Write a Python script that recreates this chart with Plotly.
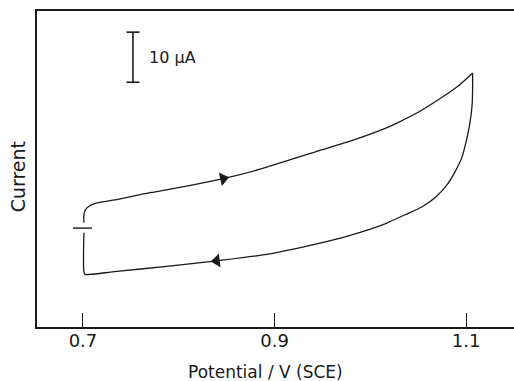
import plotly.graph_objects as go

# Cyclic voltammogram: potential (V vs SCE) and current (uA, zero at the marker)
fwd_potential = [0.7010, 0.7010, 0.7026, 0.7063, 0.7136, 0.7313, 0.7700, 0.8083,
                 0.8465, 0.8849, 0.9441, 0.9789, 1.0136, 1.0311, 1.0485, 1.0729,
                 1.0917, 1.1068]
fwd_current = [1.06, 2.66, 3.66, 4.36, 4.96, 5.56, 7.06, 8.36,
               9.86, 11.76, 15.32, 17.36, 19.76, 21.26, 22.96, 25.86,
               28.36, 30.96]

rev_potential = [1.1068, 1.1068, 1.1063, 1.1042, 1.1005, 1.0955, 1.0885, 1.0802,
                 1.0687, 1.0541, 1.0363, 1.0154, 0.9789, 0.9441, 0.8919, 0.8396,
                 0.7874, 0.7352, 0.7073, 0.7021, 0.7010, 0.7010]
rev_current = [30.96, 28.06, 24.66, 21.26, 17.66, 14.06, 11.26, 8.66,
               6.26, 4.26, 2.66, 0.86, -1.44, -3.14, -5.24, -6.54,
               -7.64, -8.64, -9.24, -9.24, -8.74, -0.94]

# sweep-direction arrows (position on the curve, heading in degrees)
arrow_potential = [0.8465, 0.8396]
arrow_current = [9.86, -6.54]
arrow_symbol = ["triangle-right", "triangle-left"]
arrow_angle = [-13, -7]

tick_values = [0.7, 0.9, 1.1]
tick_labels = ["0.7", "0.9", "1.1"]

scale_bar_ua = 10          # length of the current scale bar
scale_bar_x = 0.7522
scale_bar_top = 39.1
start_potential = 0.7

x_range = [0.652, 1.150]
y_range = [-19.74, 43.32]

ink = "#1a1a1a"
font_family = "DejaVu Sans"

fig = go.Figure()

# anodic sweep and cathodic return drawn as two smooth branches
fig.add_trace(go.Scatter(
    x=fwd_potential, y=fwd_current, mode="lines",
    line=dict(color=ink, width=1.3, shape="spline", smoothing=0.8), hoverinfo="skip",
))
fig.add_trace(go.Scatter(
    x=rev_potential, y=rev_current, mode="lines",
    line=dict(color=ink, width=1.3, shape="spline", smoothing=0.8), hoverinfo="skip",
))

fig.add_trace(go.Scatter(
    x=arrow_potential, y=arrow_current, mode="markers",
    marker=dict(symbol=arrow_symbol, angle=arrow_angle, size=12, color=ink),
    hoverinfo="skip",
))

# current scale bar with end caps
cap = 0.0068
bar_bottom = scale_bar_top - scale_bar_ua
fig.add_trace(go.Scatter(
    x=[scale_bar_x, scale_bar_x, None,
       scale_bar_x - cap, scale_bar_x + cap, None,
       scale_bar_x - cap, scale_bar_x + cap],
    y=[scale_bar_top, bar_bottom, None,
       scale_bar_top, scale_bar_top, None,
       bar_bottom, bar_bottom],
    mode="lines", line=dict(color=ink, width=1.6), hoverinfo="skip",
))

# zero-current marker at the start potential
fig.add_shape(type="line", x0=start_potential - 0.0104, x1=start_potential + 0.0094,
              y0=0, y1=0, line=dict(color=ink, width=1.4))

fig.add_annotation(x=scale_bar_x + 0.0145, y=scale_bar_top - scale_bar_ua / 2,
                   text=f"{scale_bar_ua} μA", showarrow=False, xanchor="left",
                   yanchor="middle", font=dict(family=font_family, size=16, color=ink))

# axis titles
fig.add_annotation(xref="paper", yref="paper", x=0.478, y=-0.142,
                   text="Potential / V (SCE)", showarrow=False,
                   xanchor="center", yanchor="middle",
                   font=dict(family=font_family, size=17, color=ink))
fig.add_annotation(xref="paper", yref="paper", x=-0.041, y=0.475,
                   text="Current", showarrow=False, textangle=-90,
                   xanchor="center", yanchor="middle",
                   font=dict(family=font_family, size=19, color=ink))

fig.update_layout(
    width=514, height=381,
    margin=dict(l=37, r=0, t=11, b=54),
    paper_bgcolor="white", plot_bgcolor="white",
    showlegend=False,
    xaxis=dict(
        range=x_range, showgrid=False, zeroline=False,
        showline=True, linecolor=ink, linewidth=1.6, mirror=True,
        ticks="inside", ticklen=14, tickwidth=1, tickcolor=ink,
        tickvals=tick_values, ticktext=tick_labels, ticklabelstandoff=-3,
        tickfont=dict(family=font_family, size=18, color=ink),
    ),
    yaxis=dict(
        range=y_range, showgrid=False, zeroline=False,
        showline=True, linecolor=ink, linewidth=1.8, mirror=False,
        showticklabels=False, ticks="",
    ),
)

fig.write_html("out.html")
